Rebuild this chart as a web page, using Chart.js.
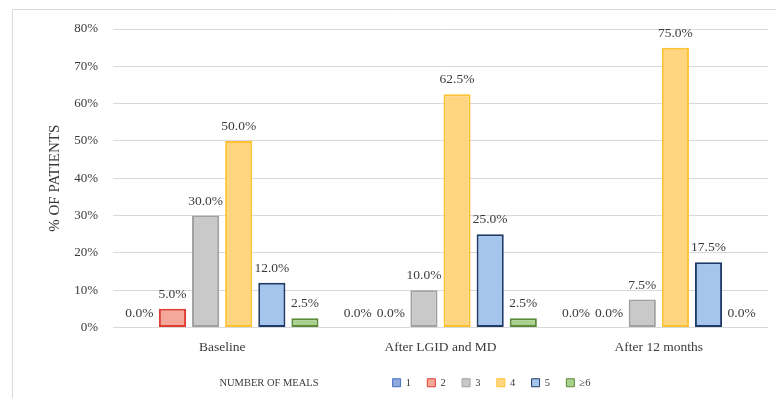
<!DOCTYPE html>
<html>
<head>
<meta charset="utf-8">
<script src="https://cdn.jsdelivr.net/npm/chart.js@4/dist/chart.umd.min.js"></script>
<style>
  html, body { margin: 0; padding: 0; background: #ffffff; }
  #wrap { width: 776px; height: 398px; }
</style>
</head>
<body>
<div id="wrap"><canvas id="meals" width="776" height="398"></canvas></div>
<script>
// Share of patients by number of daily meals, at three time points
const categories = ['Baseline', 'After LGID and MD', 'After 12 months'];
const mealGroups = ['1', '2', '3', '4', '5', '\u22656'];
const meals1 = [0.0, 0.0, 0.0];
const meals2 = [5.0, 0.0, 0.0];
const meals3 = [30.0, 10.0, 7.5];
const meals4 = [50.0, 62.5, 75.0];
const meals5 = [12.0, 25.0, 17.5];
const meals6plus = [2.5, 2.5, 0.0];
const yTicks = [0, 10, 20, 30, 40, 50, 60, 70, 80];
const legendTitle = 'NUMBER OF MEALS';
const yTitle = '% OF PATIENTS';

const seriesValues = [meals1, meals2, meals3, meals4, meals5, meals6plus];
const fills = ['#8EA9DB', '#F4A89A', '#C9C9C9', '#FFD580', '#A4C6EC', '#A9D18E'];
const strokes = ['#4472C4', '#E03C31', '#A0A0A0', '#FFC233', '#1F3A68', '#5B8A3A'];

const SERIF = '"Liberation Serif", "DejaVu Serif", serif';
const TEXT = '#3a3a3a';

// light frame along the top and left of the figure
const framePlugin = {
  id: 'frame',
  beforeDraw(chart) {
    const c = chart.ctx;
    c.save();
    c.fillStyle = '#ffffff';
    c.fillRect(0, 0, chart.width, chart.height);
    c.strokeStyle = '#d9d9d9';
    c.lineWidth = 1;
    c.beginPath();
    c.moveTo(12.5, chart.height);
    c.lineTo(12.5, 9.5);
    c.lineTo(chart.width, 9.5);
    c.stroke();
    c.restore();
  }
};

// percentage printed above every bar
const valueLabels = {
  id: 'valueLabels',
  afterDatasetsDraw(chart) {
    const c = chart.ctx;
    c.save();
    c.font = '13.5px ' + SERIF;
    c.fillStyle = TEXT;
    c.textAlign = 'center';
    c.textBaseline = 'middle';
    chart.data.datasets.forEach((ds, i) => {
      const meta = chart.getDatasetMeta(i);
      if (meta.hidden) return;
      meta.data.forEach((bar, j) => {
        c.fillText(ds.data[j].toFixed(1) + '%', bar.x, bar.y - 14.5);
      });
    });
    c.restore();
  }
};

new Chart(document.getElementById('meals'), {
  type: 'bar',
  data: {
    labels: categories,
    datasets: mealGroups.map((name, i) => ({
      label: name,
      data: seriesValues[i],
      backgroundColor: fills[i],
      borderColor: strokes[i],
      borderWidth: 2,
      borderSkipped: false,
      categoryPercentage: 0.91,
      barPercentage: 0.82
    }))
  },
  options: {
    responsive: false,
    devicePixelRatio: 1,
    animation: false,
    layout: { padding: { left: 34, right: 8, top: 29, bottom: 0 } },
    scales: {
      x: {
        grid: { display: false, drawTicks: false },
        border: { display: false },
        ticks: { color: TEXT, font: { family: SERIF, size: 13.5 }, padding: 12 },
        afterFit(scale) { scale.height = 39; }
      },
      y: {
        min: 0,
        max: 80,
        afterBuildTicks(scale) { scale.ticks = yTicks.map(v => ({ value: v })); },
        grid: { color: '#d9d9d9', lineWidth: 1, drawTicks: false },
        border: { display: false },
        ticks: {
          color: TEXT,
          font: { family: SERIF, size: 13 },
          padding: 15,
          callback: v => v + '%'
        },
        title: {
          display: true,
          text: yTitle,
          color: TEXT,
          font: { family: SERIF, size: 15 },
          padding: { top: 12, bottom: 0 }
        },
        afterFit(scale) { scale.width = 79; }
      }
    },
    plugins: {
      tooltip: { enabled: false },
      legend: {
        position: 'bottom',
        onClick: () => {},
        labels: {
          color: TEXT,
          font: { family: SERIF, size: 10.5 },
          boxWidth: 8,
          boxHeight: 8,
          padding: 11,
          generateLabels(chart) {
            const items = Chart.defaults.plugins.legend.labels.generateLabels(chart);
            items.forEach(it => { it.text = it.text + '  '; it.lineWidth = 1; });
            return [{
              text: legendTitle + ' '.repeat(24),
              fillStyle: 'rgba(0,0,0,0)',
              strokeStyle: 'rgba(0,0,0,0)',
              lineWidth: 0,
              hidden: false,
              fontColor: TEXT
            }].concat(items);
          }
        }
      }
    }
  },
  plugins: [framePlugin, valueLabels]
});
</script>
</body>
</html>
